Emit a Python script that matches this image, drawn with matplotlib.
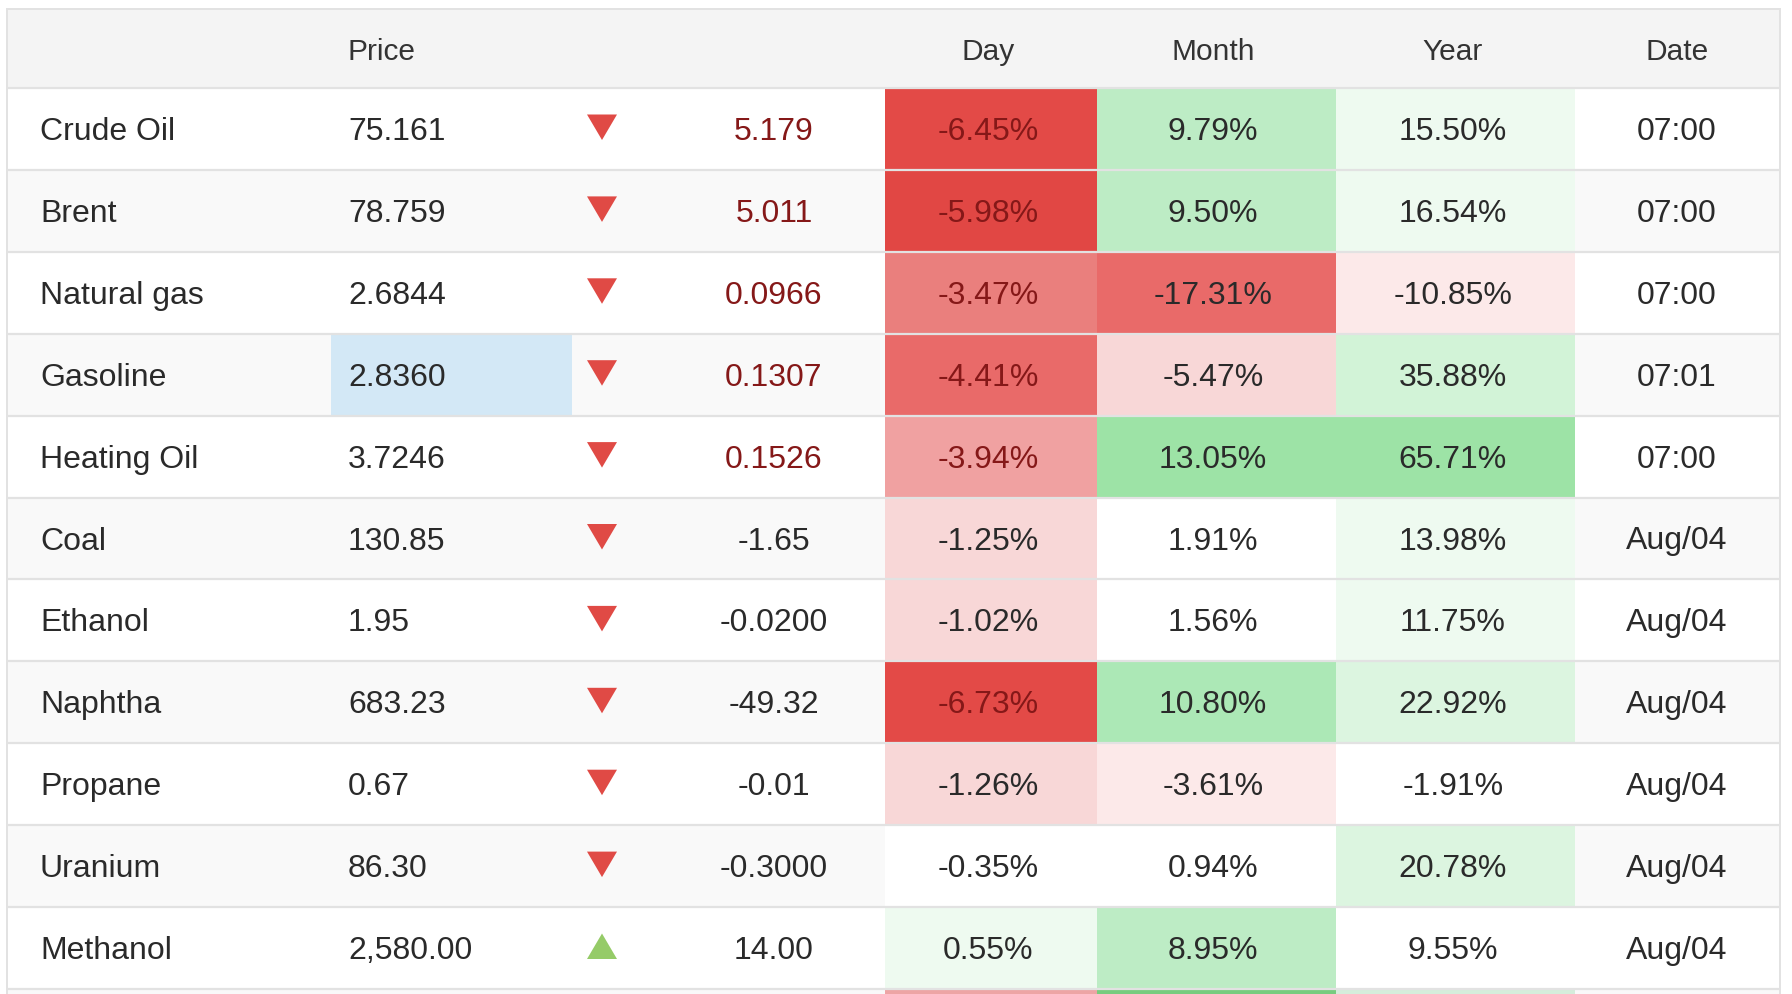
import matplotlib
matplotlib.use("Agg")
import matplotlib.pyplot as plt
from matplotlib.patches import Rectangle, Polygon

plt.rcParams['font.family'] = ['Liberation Sans', 'DejaVu Sans']

# ---- data ---------------------------------------------------------------
headers = ["", "Price", "", "", "Day", "Month", "Year", "Date"]
names = ["Crude Oil", "Brent", "Natural gas", "Gasoline", "Heating Oil", "Coal",
         "Ethanol", "Naphtha", "Propane", "Uranium", "Methanol"]
prices = ["75.161", "78.759", "2.6844", "2.8360", "3.7246", "130.85",
          "1.95", "683.23", "0.67", "86.30", "2,580.00"]
directions = ["down", "down", "down", "down", "down", "down",
              "down", "down", "down", "down", "up"]
changes = ["5.179", "5.011", "0.0966", "0.1307", "0.1526", "-1.65",
           "-0.0200", "-49.32", "-0.01", "-0.3000", "14.00"]
change_red = [True, True, True, True, True, False, False, False, False, False, False]
day_pct = ["-6.45%", "-5.98%", "-3.47%", "-4.41%", "-3.94%", "-1.25%",
           "-1.02%", "-6.73%", "-1.26%", "-0.35%", "0.55%"]
day_red = [True, True, True, True, True, False, False, True, False, False, False]
month_pct = ["9.79%", "9.50%", "-17.31%", "-5.47%", "13.05%", "1.91%",
             "1.56%", "10.80%", "-3.61%", "0.94%", "8.95%"]
year_pct = ["15.50%", "16.54%", "-10.85%", "35.88%", "65.71%", "13.98%",
            "11.75%", "22.92%", "-1.91%", "20.78%", "9.55%"]
dates = ["07:00", "07:00", "07:00", "07:01", "07:00", "Aug/04",
         "Aug/04", "Aug/04", "Aug/04", "Aug/04", "Aug/04"]

# heat colours (last entry = the row cut off at the bottom edge)
day_colors = ["#e34a47", "#e14744", "#ea7f7d", "#e96a69", "#f0a1a1", "#f8d7d7",
              "#f8d7d7", "#e34a47", "#f8d7d7", "#ffffff", "#eefaf0", "#eda5a5"]
month_colors = ["#bdecc5", "#bdecc5", "#e96a69", "#f8d7d7", "#9de3a6", "#ffffff",
                "#ffffff", "#ace8b6", "#fce9e9", "#ffffff", "#bdecc5", "#77cc7f"]
year_colors = ["#eefaf0", "#eefaf0", "#fce9e9", "#d2f3d7", "#9de3a6", "#eefaf0",
               "#eefaf0", "#dcf5e0", "#ffffff", "#dcf5e0", "#ffffff", "#d5eddb"]
highlight = {"Gasoline": "price"}

# ---- layout (pixels) ----------------------------------------------------
W, H = 1792, 994
X_LEFT, X_RIGHT = 7, 1780
TOP, HEAD_BOT, ROW_H = 9, 88, 81.9
PRICE_COL = (331, 572)
DAY_COL, MONTH_COL, YEAR_COL = (885, 1097), (1097, 1336), (1336, 1575)
X_NAME, X_PRICE, X_ARROW, X_CHANGE = 40, 348, 602, 774
X_DAY, X_MONTH, X_YEAR, X_DATE = 988, 1213, 1453, 1677
HEADER_X = [X_NAME, X_PRICE, X_ARROW, X_CHANGE, X_DAY, X_MONTH, X_YEAR, X_DATE]
HEADER_HA = ["left", "left", "center", "center", "center", "center", "center", "center"]

TXT = "#2a2a2a"
DARK_RED = "#851818"
LINE = "#e2e2e2"
BODY_FS, HEAD_FS = 23, 21.5

fig = plt.figure(figsize=(W / 100, H / 100), dpi=100)
ax = fig.add_axes([0, 0, 1, 1])
ax.set_xlim(0, W)
ax.set_ylim(H, 0)
ax.axis("off")

# header
ax.add_patch(Rectangle((X_LEFT, TOP), X_RIGHT - X_LEFT, HEAD_BOT - TOP,
                       facecolor="#f4f4f4", edgecolor="none"))
for label, x, ha in zip(headers, HEADER_X, HEADER_HA):
    ax.text(x, TOP + 51, label, ha=ha, va="baseline", fontsize=HEAD_FS, color="#333333")

n_rows = len(day_colors)
for i in range(n_rows):
    top = HEAD_BOT + i * ROW_H
    bg = "#ffffff" if i % 2 == 0 else "#f9f9f9"
    ax.add_patch(Rectangle((X_LEFT, top), X_RIGHT - X_LEFT, ROW_H,
                           facecolor=bg, edgecolor="none"))
    for (x0, x1), c in zip([DAY_COL, MONTH_COL, YEAR_COL],
                           [day_colors[i], month_colors[i], year_colors[i]]):
        ax.add_patch(Rectangle((x0, top), x1 - x0, ROW_H, facecolor=c, edgecolor="none"))
    if i >= len(names):
        continue

    if highlight.get(names[i]) == "price":
        ax.add_patch(Rectangle((PRICE_COL[0], top), PRICE_COL[1] - PRICE_COL[0], ROW_H,
                               facecolor="#d3e8f6", edgecolor="none"))

    base = top + 52
    ax.text(X_NAME, base, names[i], ha="left", va="baseline", fontsize=BODY_FS, color=TXT)
    ax.text(X_PRICE, base, prices[i], ha="left", va="baseline", fontsize=BODY_FS, color=TXT)
    ax.text(X_CHANGE, base, changes[i], ha="center", va="baseline", fontsize=BODY_FS,
            color=DARK_RED if change_red[i] else TXT)
    ax.text(X_DAY, base, day_pct[i], ha="center", va="baseline", fontsize=BODY_FS,
            color=DARK_RED if day_red[i] else TXT)
    ax.text(X_MONTH, base, month_pct[i], ha="center", va="baseline", fontsize=BODY_FS, color=TXT)
    ax.text(X_YEAR, base, year_pct[i], ha="center", va="baseline", fontsize=BODY_FS, color=TXT)
    ax.text(X_DATE, base, dates[i], ha="center", va="baseline", fontsize=BODY_FS, color=TXT)

    # direction triangle
    y0, y1 = top + 26.5, top + 52
    if directions[i] == "down":
        pts = [(X_ARROW - 15, y0), (X_ARROW + 15, y0), (X_ARROW, y1)]
        col = "#e04a45"
    else:
        pts = [(X_ARROW - 15, y1), (X_ARROW + 15, y1), (X_ARROW, y0)]
        col = "#95cb68"
    ax.add_patch(Polygon(pts, closed=True, facecolor=col, edgecolor="none"))

# grid lines
for i in range(n_rows + 1):
    y = HEAD_BOT + i * ROW_H
    ax.plot([X_LEFT, X_RIGHT], [y, y], color=LINE, lw=1.6, solid_capstyle="butt")
ax.plot([X_LEFT, X_RIGHT], [TOP, TOP], color=LINE, lw=1.4)
ax.plot([X_LEFT, X_LEFT], [TOP, H], color=LINE, lw=1.4)
ax.plot([X_RIGHT, X_RIGHT], [TOP, H], color=LINE, lw=1.4)

fig.savefig("out.png", dpi=100)
plt.close(fig)
